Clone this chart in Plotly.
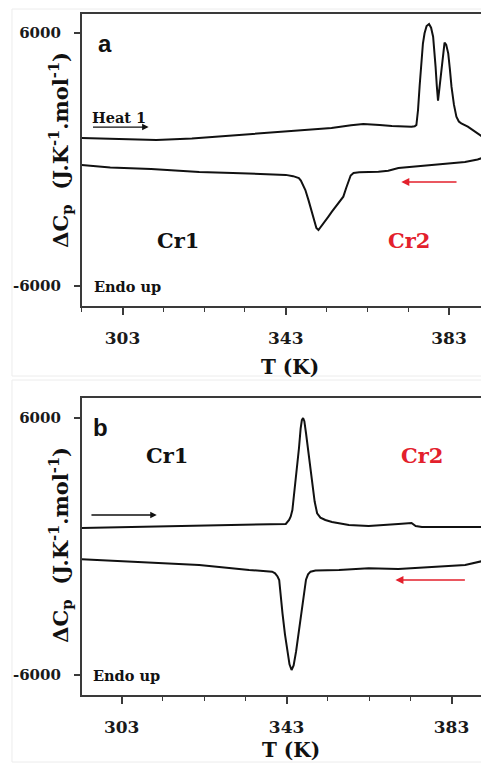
import plotly.graph_objects as go

# ---------------- data ----------------
# Panel a: heat 1 (upper) and cooling (lower)
a_heat_T = [293.0, 300.0, 305.0, 311.3, 320.0, 330.0, 338.1, 346.0, 354.2, 359.0, 362.0,
            366.0, 369.0, 373.8, 374.6, 375.0, 375.4, 375.8, 376.2, 376.6, 377.0, 377.5,
            378.1, 378.6, 379.1, 379.4, 379.7, 380.0, 380.3, 380.6, 381.1, 381.5, 381.9,
            382.3, 382.8, 383.2, 383.6, 384.2, 384.8, 385.4, 386.0, 387.6, 390.1, 391.2,
            392.3]
a_heat_V = [1020, 980, 950, 925, 1000, 1150, 1257, 1380, 1494, 1620, 1684,
            1640, 1590, 1556, 1580, 1636, 2348, 3500, 4719, 5500, 5984, 6330,
            6427, 6250, 5826, 5200, 4402, 3500, 2789, 3300, 4088, 5000, 5542,
            5450, 5037, 4300, 3453, 2600, 2030, 1800, 1717, 1556, 1243, 1080,
            850]
a_cool_T = [293.0, 300.0, 310.0, 321.8, 330.0, 338.0, 343.0, 344.8, 346.2, 346.7, 347.2,
            347.8, 348.6, 349.4, 350.0, 350.5, 351.0, 351.6, 352.5, 353.4, 354.3, 355.7,
            357.1, 357.8, 358.4, 358.9, 359.6, 361.0, 365.7, 368.1, 370.6, 380.0, 386.9,
            390.0, 391.8, 392.3]
a_cool_V = [-261, -380, -450, -593, -640, -680, -730, -790, -880, -1000, -1200,
            -1447, -1950, -2552, -3000, -3250, -3344, -3200, -2950, -2720, -2476, -2130,
            -1764, -1350, -972, -760, -640, -610, -579, -531, -403, -250, -119,
            0, 119, 300]

# Panel b: heating (upper) and cooling (lower)
b_heat_T = [293.3, 305.7, 321.8, 333.9, 338.0, 342.8, 343.6, 344.0, 344.4, 344.8, 345.2,
            345.6, 346.0, 346.4, 346.7, 347.0, 347.3, 347.7, 348.2, 348.8, 349.3, 349.8,
            350.4, 351.2, 352.4, 354.0, 358.1, 362.9, 370.1, 373.3, 374.3, 375.8, 386.0,
            391.6]
b_heat_V = [864, 911, 960, 1004, 1051, 1051, 1238, 1400, 1700, 2400, 3200,
            3726, 4600, 5500, 5900, 6000, 5850, 5300, 4500, 3726, 2900, 2100,
            1550, 1350, 1238, 1144, 1004, 957, 1050, 1100, 960, 911, 911,
            911]
b_cool_T = [293.3, 305.0, 321.8, 333.9, 338.5, 339.5, 340.2, 340.8, 341.2, 341.6, 342.0,
            342.6, 343.2, 343.7, 344.2, 344.7, 345.3, 346.0, 346.6, 347.2, 347.7, 348.2,
            348.8, 350.0, 355.7, 362.9, 370.1, 386.3, 391.6]
b_cool_V = [-600, -720, -863, -1097, -1150, -1176, -1250, -1400, -1564, -2200, -3119,
            -4100, -4950, -5500, -5766, -5550, -4900, -3899, -2900, -2031, -1550, -1300,
            -1176, -1120, -1097, -1018, -1050, -863, -630]

x_ticks = [303, 343, 383]
y_ticks = [-6000, 6000]
y_ticktext = ["-6000", "6000"]

# ---------------- styling ----------------
OFF = 8                      # page body margin of the browser
W, H = 489 - OFF, 763 - OFF
SERIF = "DejaVu Serif"
RED = "#e3202c"
AX_COL = "#3a3a3a"


def px(x):
    return (x - OFF) / W


def py(y):
    return 1 - (y - OFF) / H


fig = go.Figure()
for T, V, xa, ya in [(a_heat_T, a_heat_V, "x", "y"), (a_cool_T, a_cool_V, "x", "y"),
                     (b_heat_T, b_heat_V, "x2", "y2"), (b_cool_T, b_cool_V, "x2", "y2")]:
    fig.add_trace(go.Scatter(x=T, y=V, xaxis=xa, yaxis=ya, mode="lines",
                             line=dict(color="#111111", width=2),
                             showlegend=False, hoverinfo="skip"))


def xaxis_cfg(domain_range):
    return dict(
        domain=[px(82), 1.0], range=domain_range,
        tickmode="array", tickvals=x_ticks,
        ticks="outside", ticklen=7, tickwidth=1.5, tickcolor=AX_COL,
        minor=dict(tick0=303, dtick=10, ticks="outside", ticklen=4, tickwidth=1.2, tickcolor=AX_COL),
        showline=True, linecolor=AX_COL, linewidth=1.5, mirror=True,
        showgrid=False, zeroline=False,
        tickfont=dict(family=SERIF, size=17, color="#1a1a1a", weight="bold"),
        ticklabelstandoff=9, fixedrange=True,
    )


def yaxis_cfg(dom, rng, anchor):
    return dict(
        domain=dom, range=rng, anchor=anchor,
        tickmode="array", tickvals=y_ticks, ticktext=y_ticktext,
        ticks="outside", ticklen=6, tickwidth=1.5, tickcolor=AX_COL,
        showline=True, linecolor=AX_COL, linewidth=1.5, mirror=True,
        showgrid=False, zeroline=False,
        tickfont=dict(family=SERIF, size=15, color="#1a1a1a", weight="bold"),
        ticklabelstandoff=10, fixedrange=True,
    )


xa = xaxis_cfg([293.0, 392.3]); xa["anchor"] = "y"
xb = xaxis_cfg([293.3, 391.6]); xb["anchor"] = "y2"

fig.update_layout(
    width=W, height=H, autosize=False,
    margin=dict(l=0, r=0, t=0, b=0),
    paper_bgcolor="white", plot_bgcolor="white",
    xaxis=xa,
    yaxis=yaxis_cfg([py(306), py(14)], [-6949, 6901], "x"),
    xaxis2=xb,
    yaxis2=yaxis_cfg([py(695), py(398)], [-6934, 6934], "x2"),
)

ann = []


def txt(x, y, s, size, color="#111111", family=SERIF, angle=0):
    ann.append(dict(xref="paper", yref="paper", x=px(x), y=py(y), text=s, showarrow=False,
                    xanchor="center", yanchor="middle", textangle=angle,
                    font=dict(family=family, size=size, color=color, weight="bold")))


# panel labels
txt(105, 44, "a", 24, family="Liberation Sans")
txt(101, 428, "b", 24, family="Liberation Sans")
# annotations panel a
txt(119, 117, "Heat 1", 14.5)
txt(128, 286, "Endo up", 14.5)
txt(179, 240, "Cr1", 21)
txt(411, 240, "Cr2", 21, color=RED)
# annotations panel b
txt(127, 675, "Endo up", 14.5)
txt(168, 455, "Cr1", 21)
txt(424, 455, "Cr2", 21, color=RED)
# axis titles
ytitle = "ΔC<sub>p</sub>  (J.K<sup>-1</sup>.mol<sup>-1</sup>)"
txt(60, 150, ytitle, 21, angle=-90)
txt(60, 545, ytitle, 21, angle=-90)
txt(291, 367, "T (K)", 20)
txt(292, 750, "T (K)", 20)


def arrow(xref, yref, tail, head, yv, color, width):
    ann.append(dict(xref=xref, yref=yref, axref=xref, ayref=yref,
                    x=head, y=yv, ax=tail, ay=yv, text="", showarrow=True,
                    arrowhead=2, arrowsize=1.0, arrowwidth=width, arrowcolor=color))


arrow("x", "y", 295.4, 309.4, 1540, "#111111", 1.3)
arrow("x", "y", 385.2, 371.3, -1067, RED, 1.6)
arrow("x2", "y2", 295.3, 311.5, 1471, "#111111", 1.3)
arrow("x2", "y2", 386.6, 369.4, -1564, RED, 1.6)

fig.update_layout(annotations=ann)

# faint outer frames of the two sub-figures
fig.add_shape(type="rect", xref="paper", yref="paper", x0=px(12), x1=1.0, y0=py(376), y1=py(9),
              line=dict(color="#ececec", width=1), layer="below")
fig.add_shape(type="rect", xref="paper", yref="paper", x0=px(12), x1=1.0, y0=py(762), y1=py(380),
              line=dict(color="#ececec", width=1), layer="below")

fig.write_html("out.html", config={"displayModeBar": False})
